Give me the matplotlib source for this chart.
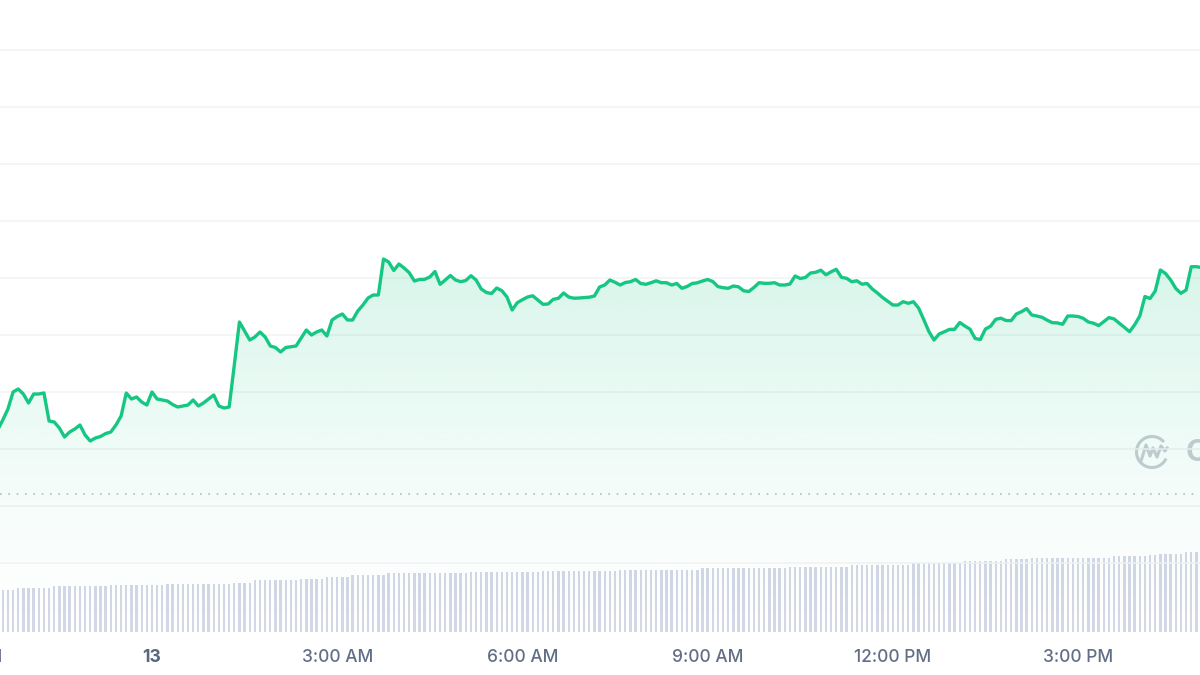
import numpy as np
import matplotlib.pyplot as plt
from matplotlib.patches import Arc
from matplotlib.transforms import blended_transform_factory

# 5-minute candles, minutes relative to midnight of the 13th
start_minute = -150
step_minute = 5

# price (chart units), one value per 5 minutes
price = [
    190, 200, 211, 228, 231, 226, 217, 226, 226, 227,
    199, 198, 192, 183, 188, 191, 195, 185, 179, 182,
    183.5, 186.5, 188, 195, 204, 227, 221, 223, 218, 215,
    228, 221, 220, 219, 215.5, 213, 214, 215, 220, 214,
    217, 221, 225, 214, 212, 213, 255, 298, 289, 280,
    283, 288, 283, 274, 272.5, 268, 272.5, 273.3, 274, 282,
    290, 285, 288, 290, 284, 300, 303.5, 306, 300, 300,
    309, 315, 322, 325, 325, 361, 358, 349.5, 356, 352,
    347.3, 339, 340.5, 340.7, 343, 348.5, 335.7, 340, 344.5, 340,
    338.3, 339.5, 344.3, 340, 331, 327.5, 326.5, 332, 329.3, 323,
    310, 317.3, 320.3, 323, 324.2, 320, 315.7, 316, 320.7, 321.7,
    327, 323, 321.8, 322, 322.4, 322.8, 324, 333, 335, 340,
    337.7, 335, 337.5, 338.3, 340.5, 336.5, 335.7, 337.3, 339.2, 337.3,
    337.3, 335, 336.5, 331.7, 333.5, 336.5, 337.2, 339, 340.5, 338.5,
    333.4, 332.3, 331.7, 334, 333.2, 329.2, 328.5, 332.5, 337.3, 336.7,
    336.7, 337.3, 335, 335, 336, 344, 341.5, 342.5, 347, 347.7,
    349.8, 345.2, 348.2, 350.7, 342.7, 341.7, 338.3, 339.2, 335.8, 336.5,
    331, 327, 322.5, 318.7, 315, 315, 318.3, 316.7, 318.3, 312,
    300.5, 288.5, 280, 286, 288.2, 290.6, 290.7, 297.5, 294, 290.8,
    281.5, 280.5, 291, 293.8, 300.7, 301.8, 299.5, 299.4, 306, 308.3,
    311.4, 305, 304, 302.7, 299.8, 297.3, 297.1, 295.7, 304, 304,
    303.5, 301.7, 298, 296.8, 294.4, 298.4, 302.4, 301.1, 296.8, 292.7,
    288.3, 295.2, 304, 323.5, 321.5, 329, 350, 346.5, 340, 331.5,
    326.7, 330, 353.3, 353.3, 352.5,
]

# volume (chart units), one bar per 5 minutes
volume = [
    41, 42, 42, 42, 44, 44, 44, 44, 44, 44,
    44, 46, 46, 46, 46, 46, 46, 46, 46, 46,
    46, 46, 47, 47, 47, 47, 47, 47, 47, 47,
    47, 47, 47, 48, 48, 48, 48, 48, 48, 48,
    48, 48, 48, 48, 48, 48, 49.3, 49.3, 49.3, 49.3,
    52, 52, 52, 52, 52, 52, 52, 52, 52, 53.3,
    53.3, 53.3, 53.3, 53.3, 55, 55, 55, 55, 55, 57,
    57, 57, 57, 57, 57, 57, 59, 59, 59, 59,
    59, 59, 59, 59, 59, 59, 59, 59, 59, 59,
    59, 59, 60, 60, 60, 60, 60, 60, 60, 60,
    60, 60, 60, 60, 60, 60, 61, 61, 61, 61,
    61, 61, 61, 61, 61, 61, 61, 61, 61, 61,
    61, 62.5, 62.5, 62.5, 62.5, 62.5, 62.5, 62.5, 62.5, 62.5,
    62.5, 62.5, 62.5, 62.5, 62.5, 62.5, 62.5, 64, 64, 64,
    64, 64, 64, 64, 64, 64, 64, 64, 64, 64,
    64, 64, 64, 64, 65.5, 65.5, 65.5, 65.5, 65.5, 65.5,
    65.5, 65.5, 65.5, 65.5, 65.5, 65.5, 67, 67, 67, 67,
    67, 67, 67, 67, 67, 67, 67, 67, 69, 69,
    69, 69, 69, 69, 69, 69, 69, 69, 71, 71,
    71, 71, 71, 71, 71, 71, 72.7, 72.7, 72.7, 72.7,
    72.7, 74, 74, 74, 74, 74, 74, 74, 74, 74,
    74, 74, 74, 74, 74, 74, 74, 76, 76, 76,
    76, 76, 76, 76, 77, 77, 78.5, 78.5, 78.5, 78.5,
    78.5, 80, 80, 80, 80,
]

tick_minutes = [-180, 0, 180, 360, 540, 720, 900]
tick_labels = ["9:00 PM", "13", "3:00 AM", "6:00 AM", "9:00 AM", "12:00 PM", "3:00 PM"]
grid_levels = [57, 114, 171, 228, 285, 342, 399, 456, 513, 570]
open_price = 126

GREEN = "#16c784"
BAR = "#d3d7e6"
LABEL = "#616e85"

t = start_minute + step_minute * np.arange(len(price))

fig = plt.figure(figsize=(12, 6.75), dpi=100)
rect = [0, 43 / 675, 1, 632 / 675]

# volume axis sits behind the price axis
axv = fig.add_axes(rect)
axv.bar(t, volume, width=2.3, color=BAR, linewidth=0)
axv.set_ylim(0, 632)
axv.set_xlim(-147.7, 1018.5)
axv.axis("off")

ax = fig.add_axes(rect)
ax.patch.set_alpha(0)
ax.set_xlim(-147.7, 1018.5)
ax.set_ylim(-12, 620)

for g in grid_levels:
    ax.axhline(g, color="#f1f2f4", lw=1.1, zorder=0)

ax.axhline(open_price, color="#b8bcc6", lw=1.2, ls=(0, (1, 4)), zorder=1)

# gradient under the line
poly = ax.fill_between(t, price, -12, color="none")
grad = np.linspace(0, 1, 256).reshape(-1, 1)
rgba = np.zeros((256, 1, 4))
rgba[..., 0] = 22 / 255
rgba[..., 1] = 199 / 255
rgba[..., 2] = 132 / 255
rgba[..., 3] = 0.17 * grad ** 1.3
img = ax.imshow(rgba, extent=[t[0], t[-1], -12, max(price)], origin="lower",
                aspect="auto", zorder=1.5)
img.set_clip_path(poly.get_paths()[0], transform=ax.transData)

ax.plot(t, price, color=GREEN, lw=2.4, solid_joinstyle="round",
        solid_capstyle="round", zorder=3)

for side in ax.spines.values():
    side.set_visible(False)
ax.set_xticks([])
ax.set_yticks([])

trans = blended_transform_factory(ax.transData, ax.transAxes)
for m, lab in zip(tick_minutes, tick_labels):
    bold = lab == "13"
    ax.text(m, -25 / 632, lab, transform=trans, ha="center", va="center",
            fontsize=12.5, family="Inter", color="#58667e" if bold else LABEL,
            fontweight="bold" if bold else "medium", clip_on=False)

# watermark
deco = fig.add_axes([0, 0, 1, 1], zorder=-1)
deco.set_xlim(0, 1200)
deco.set_ylim(675, 0)
deco.axis("off")
deco.add_patch(Arc((1152, 452), 31, 31, theta1=25, theta2=320, color="#c8ccd4", lw=2.2))
deco.plot([1141, 1146, 1150, 1153, 1157, 1161, 1165, 1167],
          [461, 445, 456, 448, 457, 446, 451, 448], color="#c8ccd4", lw=2.2)
deco.text(1186, 452, "CoinMarketCap", fontsize=22, color="#c8ccd4", family="Inter",
          fontweight="bold", va="center", ha="left")

fig.savefig("out.png", dpi=100)
